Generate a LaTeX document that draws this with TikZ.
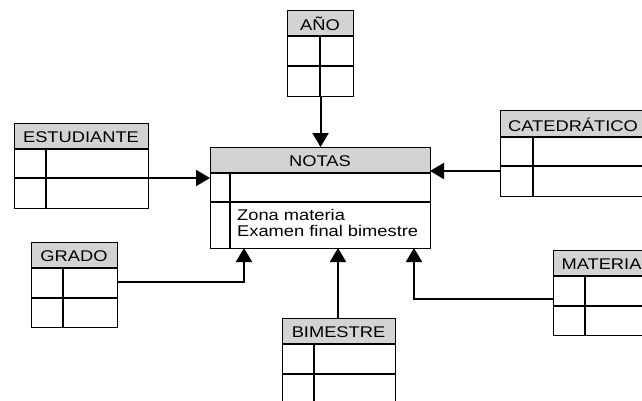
\documentclass[tikz,border=0pt]{standalone}
\usepackage{fontspec}
\setmainfont{Liberation Sans}[FakeStretch=1.18]
\usetikzlibrary{arrows.meta}
\definecolor{hdrgray}{RGB}{211,211,211}
\tikzset{
  boxline/.style={draw=black, line width=1.1pt},
  hdrtext/.style={font=\fontsize{15.5}{17}\selectfont, inner sep=0pt},
  conn/.style={line width=2pt, -{Triangle[length=14pt,width=16pt]}},
  bodytext/.style={font=\fontsize{15.5}{16}\selectfont, align=left, anchor=north west, inner sep=0pt},
}
% #1 name, #2 left, #3 top, #4 right, #5 header bottom, #6 row1 bottom, #7 bottom, #8 divider x, #9 label
\newcommand\entitybox[9]{%
  \fill[hdrgray] (#2,#3) rectangle (#4,#5);
  \node[hdrtext] (#1h) at ({(#2+#4)/2},{(#3+#5)/2+1}) {#9};
  \node[boxline, anchor=north west, inner sep=0pt, minimum width={(#4-#2)*1pt}, minimum height={(#7-#3)*1pt}] (#1) at (#2,#3) {};
  \draw[boxline] (#2,#5) -- (#4,#5);
  \draw[boxline] (#2,#6) -- (#4,#6);
  \draw[boxline] (#8,#5) -- (#8,#7);
}
\begin{document}
\begin{tikzpicture}[x=1pt,y=-1pt]
\useasboundingbox (0,0) rectangle (642,400);
\clip (0,0) rectangle (642,400);
\fill[white] (0,0) rectangle (642,400);
\entitybox{ano}{287}{10}{353}{36}{66}{96}{320}{AÑO}
\entitybox{est}{14}{123}{148}{149}{178}{208}{46}{ESTUDIANTE}
\entitybox{notas}{210}{147}{430}{173}{202}{248}{230}{NOTAS}
\entitybox{cat}{500}{110}{646}{137}{166}{196}{533}{CATEDRÁTICO}
\entitybox{grado}{31}{242}{117}{268}{298}{327}{63}{GRADO}
\entitybox{bim}{282}{318}{395}{344}{374}{410}{314}{BIMESTRE}
\entitybox{mat}{553}{250}{650}{276}{306}{335}{585}{MATERIA}
\node[bodytext] (notastext) at (237,209) {Zona materia\\Examen final bimestre};
% connector points
\coordinate (estout) at (148,178);
\coordinate (notasin1) at (210,178);
\coordinate (catout) at (500,171);
\coordinate (notasin2) at (430,171);
\coordinate (gradout) at (117,282);
\coordinate (notasin3) at (244,248);
\coordinate (bimout) at (338,318);
\coordinate (notasin4) at (338,248);
\coordinate (matout) at (553,299);
\coordinate (notasin5) at (414,248);
\draw[conn] (ano.south) -- (ano.south |- notas.north);
\draw[conn] (estout) -- (notasin1);
\draw[conn] (catout) -- (notasin2);
\draw[conn] (gradout) -| (notasin3);
\draw[conn] (bimout) -- (notasin4);
\draw[conn] (matout) -| (notasin5);
\end{tikzpicture}
\end{document}
